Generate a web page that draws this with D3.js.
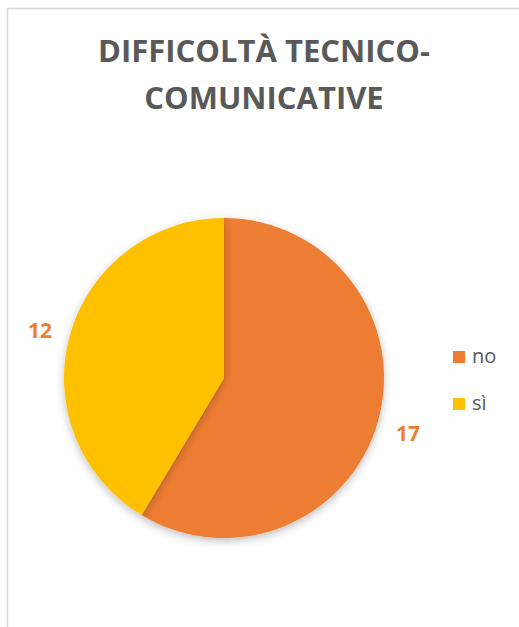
<!DOCTYPE html>
<html><head><meta charset="utf-8">
<script src="https://cdn.jsdelivr.net/npm/d3@7"></script>
<style>body{margin:0;background:#fff;}svg{display:block;}</style>
</head><body>
<script>
const categories = ["no", "sì"];
const values = [17, 12];
const colors = ["#ED7D31", "#FFC000"];
const titleLines = ["DIFFICOLTÀ TECNICO-", "COMUNICATIVE"];

const W = 519, H = 627;
const svg = d3.select("body").append("svg").attr("width", W).attr("height", H);
const defs = svg.append("defs");
const f = defs.append("filter").attr("id","sh").attr("x","-20%").attr("y","-20%").attr("width","140%").attr("height","150%");
f.append("feDropShadow").attr("dx",0).attr("dy",3).attr("stdDeviation",4).attr("flood-color","#000").attr("flood-opacity",0.25);

svg.append("rect").attr("x",7.5).attr("y",8.5).attr("width",W).attr("height",H)
  .attr("fill","#fff").attr("stroke","#d9d9d9").attr("stroke-width",1.5);

const font = "'Open Sans', 'Liberation Sans', sans-serif";
svg.selectAll("text.title").data(titleLines).join("text")
  .attr("x", 264).attr("y",(d,i)=>62+i*47)
  .attr("text-anchor","middle").attr("font-family",font).attr("font-weight","bold")
  .attr("font-size",31).attr("fill","#595959").text(d=>d);

const cx = 224, cy = 378, r = 160;
const pie = d3.pie().sort(null).value(d=>d)(values);
const arc = d3.arc().innerRadius(0).outerRadius(r);
const g = svg.append("g").attr("transform",`translate(${cx},${cy})`);
g.selectAll("path").data(pie).join("path").attr("d",arc)
  .attr("fill",(d,i)=>colors[i]).attr("filter","url(#sh)");

// data labels outside
const labelPos = [[408, 441], [40, 338]];
svg.selectAll("text.lbl").data(pie).join("text")
  .attr("x",(d,i)=>labelPos[i][0]).attr("y",(d,i)=>labelPos[i][1])
  .attr("text-anchor","middle").attr("font-family",font).attr("font-weight","bold")
  .attr("font-size",21).attr("fill","#ED7D31").text(d=>d.data);

// legend
const leg = svg.append("g");
categories.forEach((c,i)=>{
  const y = 351 + i*47;
  leg.append("rect").attr("x",453).attr("y",y).attr("width",12).attr("height",12).attr("fill",colors[i]);
  leg.append("text").attr("x",472).attr("y",y+12).attr("font-family",font)
    .attr("font-size",20).attr("fill","#595959").text(c);
});
</script>
</body></html>
